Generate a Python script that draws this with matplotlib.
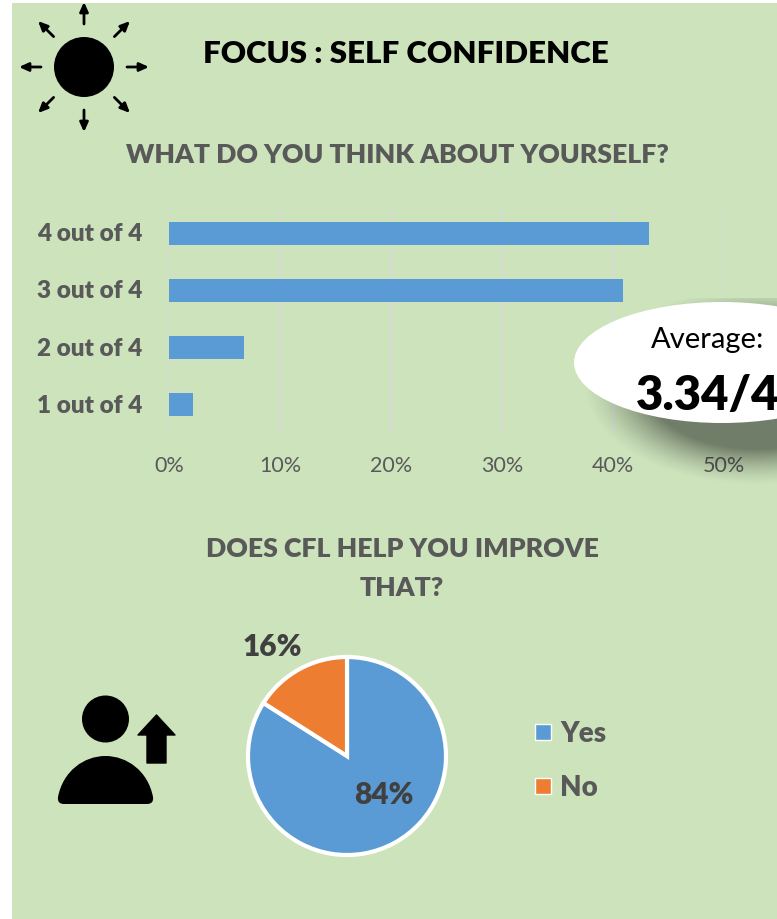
import numpy as np
import matplotlib
matplotlib.use('Agg')
import matplotlib.pyplot as plt
from matplotlib.patches import Rectangle, Circle, Ellipse, PathPatch
from matplotlib.path import Path

plt.rcParams['font.family'] = ['Lato', 'DejaVu Sans']

# survey results
levels = ['1 out of 4', '2 out of 4', '3 out of 4', '4 out of 4']
level_share = [2.2, 6.8, 40.9, 43.2]
xticks = [0, 10, 20, 30, 40, 50]
help_labels = ['Yes', 'No']
help_share = [84, 16]

BLUE = '#5B9BD5'
ORANGE = '#ED7D31'
GREEN = '#CCE3BC'
GREY = '#595959'
DARK = '#404040'
HEAVY = 800

W, H = 777, 920
fig = plt.figure(figsize=(W / 100, H / 100), dpi=100, facecolor='white')


def box(x0, y0, x1, y1):
    # axes rectangle given in pixels from the top left
    return [x0 / W, 1 - y1 / H, (x1 - x0) / W, (y1 - y0) / H]


# background panel, icons and free text live on a pixel canvas
bg = fig.add_axes([0, 0, 1, 1], zorder=0)
bg.set_xlim(0, W)
bg.set_ylim(H, 0)
bg.axis('off')
bg.add_patch(Rectangle((12, 4), W - 12, H - 4, fc=GREEN, ec='none'))

# sun icon
sun_x, sun_y = 84, 68
bg.add_patch(Circle((sun_x, sun_y), 30, fc='black', ec='none'))
for a in np.arange(0, 360, 45):
    dx, dy = np.cos(np.radians(a)), np.sin(np.radians(a))
    bg.annotate('', xy=(sun_x + 65 * dx, sun_y + 65 * dy), xytext=(sun_x + 43 * dx, sun_y + 43 * dy),
                arrowprops=dict(arrowstyle='-|>,head_length=0.55,head_width=0.25', lw=2, color='black',
                                shrinkA=0, shrinkB=0))

bg.text(406, 54, 'FOCUS : SELF CONFIDENCE', ha='center', va='center', fontsize=22.5, fontweight=HEAVY, color='black')
bg.text(397, 155, 'WHAT DO YOU THINK ABOUT YOURSELF?', ha='center', va='center', fontsize=19.2, fontweight=HEAVY, color=GREY)
bg.text(402, 549, 'DOES CFL HELP YOU IMPROVE', ha='center', va='center', fontsize=19.2, fontweight=HEAVY, color=GREY)
bg.text(402, 588, 'THAT?', ha='center', va='center', fontsize=19.2, fontweight=HEAVY, color=GREY)

# person with arrow icon
bg.add_patch(Circle((105.5, 720), 23.5, fc='black', ec='none'))
body = Path([(64, 805), (57, 805), (58, 798), (63, 772), (84, 757), (105.5, 757), (127, 757), (148, 772),
             (153, 798), (154, 805), (147, 805), (64, 805)],
            [Path.MOVETO, Path.CURVE3, Path.CURVE3, Path.CURVE4, Path.CURVE4, Path.CURVE4, Path.CURVE4, Path.CURVE4,
             Path.CURVE4, Path.CURVE3, Path.CURVE3, Path.CLOSEPOLY])
bg.add_patch(PathPatch(body, fc='black', ec='none'))
arrow = Path([(156.5, 716), (175, 736), (166, 736), (166, 764), (147, 764), (147, 736), (138, 736), (156.5, 716)],
             [Path.MOVETO] + [Path.LINETO] * 6 + [Path.CLOSEPOLY])
bg.add_patch(PathPatch(arrow, fc='black', ec='black', lw=1, joinstyle='round'))

# horizontal bars
ax = fig.add_axes(box(169, 206, 724, 434), zorder=1)
ax.patch.set_alpha(0)
ax.barh(levels, level_share, height=0.4, color=BLUE, zorder=2)
ax.set_xlim(0, 50)
ax.set_ylim(-0.49, 3.49)
ax.set_xticks(xticks)
ax.set_xticklabels([f'{t}%' for t in xticks], color=GREY, fontsize=15.5)
ax.grid(axis='x', color='#D9D9D9', lw=1.2, zorder=0)
ax.tick_params(axis='both', length=0)
ax.tick_params(axis='x', pad=16)
ax.tick_params(axis='y', pad=19)
for lab in ax.get_yticklabels():
    lab.set_fontweight(HEAVY)
    lab.set_fontsize(17.5)
    lab.set_color(GREY)
    lab.set_va('center')
for s in ax.spines.values():
    s.set_visible(False)

# pie
pie_ax = fig.add_axes(box(247, 657, 447, 857), zorder=1)
wedges, _ = pie_ax.pie(help_share, colors=[BLUE, ORANGE], startangle=90, counterclock=False, radius=1.0,
                       wedgeprops=dict(edgecolor='white', linewidth=3))
pie_ax.set_xlim(-1.01, 1.01)
pie_ax.set_ylim(-1.01, 1.01)

top = fig.add_axes([0, 0, 1, 1], zorder=2)
top.set_xlim(0, W)
top.set_ylim(H, 0)
top.axis('off')
top.text(384, 795, f'{help_share[0]}%', ha='center', va='center', fontsize=21.5, fontweight=HEAVY, color=DARK)
top.text(272, 647, f'{help_share[1]}%', ha='center', va='center', fontsize=21.5, fontweight=HEAVY, color=DARK)

for y, lab, c in zip([733, 787], help_labels, [BLUE, ORANGE]):
    top.add_patch(Rectangle((535, y - 8), 16, 16, fc=c, ec='white', lw=1))
    top.text(560, y + 1, lab, ha='left', va='center', fontsize=20, fontweight=HEAVY, color=GREY)

# callout ellipse with soft shadow
cx, cy, rx, ry = 722, 363.5, 148, 60.5
yy, xx = np.mgrid[300:500, 540:W]
d = np.sqrt(((xx - cx - 34) / (rx + 4)) ** 2 + ((yy - cy - 24) / (ry + 26)) ** 2)
shadow = np.zeros(xx.shape + (4,))
shadow[..., 3] = 0.45 * np.clip((1.14 - d) / 0.42, 0, 1) ** 1.4
top.imshow(shadow, extent=(540, W, 500, 300), aspect='auto', zorder=1, interpolation='bilinear')
top.set_xlim(0, W)
top.set_ylim(H, 0)
top.add_patch(Ellipse((cx, cy), 2 * rx, 2 * ry, fc='white', ec='none', zorder=2))
top.text(708, 340, 'Average:', ha='center', va='center', fontsize=21, color='black', zorder=3)
top.text(708, 396, '3.34/4', ha='center', va='center', fontsize=34, fontweight=HEAVY, color='black', zorder=3)

fig.savefig('out.png', dpi=100)
